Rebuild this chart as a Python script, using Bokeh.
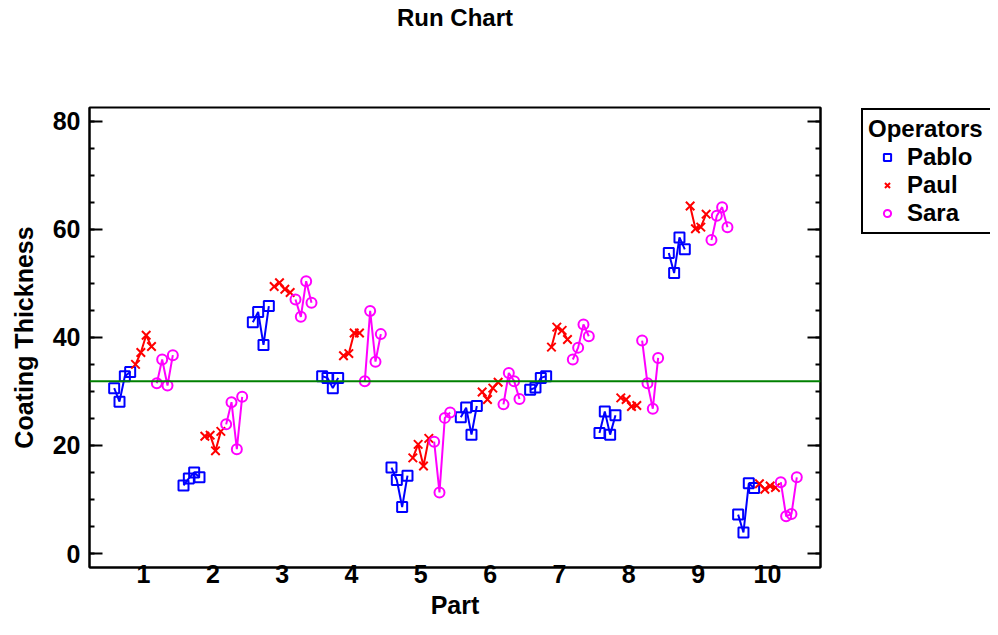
from bokeh.plotting import figure
from bokeh.layouts import row
from bokeh.models import (Range1d, LinearAxis, FixedTicker, SingleIntervalTicker,
                          Span, Legend, LegendItem)
from bokeh.embed import file_html
from bokeh.resources import INLINE

# ---------------- data ----------------
parts = [1, 2, 3, 4, 5, 6, 7, 8, 9, 10]
part_labels = ["1", "2", "3", "4", "5", "6", "7", "8", "9", "10"]
operators = ["Pablo", "Paul", "Sara"]
n_rep = 4

pablo = [30.6, 28.1, 32.8, 33.6,  12.6, 13.9, 15.0, 14.1,  42.8, 44.7, 38.6, 45.8,
         32.8, 32.5, 30.6, 32.5,  15.9, 13.6, 8.6, 14.4,   25.2, 27.0, 22.0, 27.3,
         30.3, 30.7, 32.5, 32.8,  22.3, 26.3, 22.0, 25.6,  55.6, 51.9, 58.5, 56.3,
         7.2, 3.9, 13.0, 12.1]
paul = [35.0, 37.2, 40.4, 38.3,  21.7, 21.9, 19.0, 22.6,  49.4, 50.1, 48.9, 48.3,
        36.6, 37.0, 40.8, 40.8,  17.7, 20.2, 16.2, 21.3,  29.9, 28.5, 30.6, 31.7,
        38.2, 41.9, 41.3, 39.6,  28.8, 28.5, 27.2, 27.4,  64.3, 60.1, 60.4, 62.8,
        12.9, 11.9, 12.5, 12.2]
sara = [31.5, 35.9, 31.1, 36.7,  23.9, 28.0, 19.3, 29.0,  47.0, 43.8, 50.4, 46.4,
        31.9, 44.9, 35.5, 40.6,  20.7, 11.3, 25.1, 26.1,  27.6, 33.4, 31.9, 28.6,
        35.9, 38.1, 42.4, 40.2,  39.4, 31.5, 26.8, 36.2,  58.0, 62.5, 64.1, 60.4,
        13.2, 6.9, 7.3, 14.1]

series = [pablo, paul, sara]
colors = ["#0000FF", "#FF0000", "#FF00FF"]
markers = ["square", "x", "circle"]
marker_sizes = [10, 12, 10]

FONT = "Liberation Sans"
FS = "25px"

p = figure(frame_width=731, frame_height=460,
           min_border_left=89, min_border_right=40, min_border_top=107, min_border_bottom=60,
           x_range=Range1d(0.221, 10.765), y_range=Range1d(-2.59, 82.54),
           x_axis_location=None, y_axis_location=None,
           output_backend="svg", toolbar_location=None)
p.xgrid.visible = False
p.ygrid.visible = False
p.outline_line_color = "black"
p.outline_line_width = 2
p.background_fill_color = "white"
p.border_fill_color = "white"

# title, drawn as the label of an empty top axis
top_axis = LinearAxis(ticker=FixedTicker(ticks=[]), axis_label="Run Chart")
top_axis.axis_line_color = None
top_axis.major_tick_line_color = None
top_axis.minor_tick_line_color = None
top_axis.axis_label_text_font = FONT
top_axis.axis_label_text_font_style = "bold"
top_axis.axis_label_text_font_size = "24px"
top_axis.axis_label_text_color = "black"
top_axis.axis_label_standoff = 77
p.add_layout(top_axis, "above")

# left axis and mirrored right ticks
yaxis = LinearAxis(ticker=SingleIntervalTicker(interval=20, num_minor_ticks=4),
                   axis_label="Coating Thickness")
yaxis_r = LinearAxis(ticker=SingleIntervalTicker(interval=20, num_minor_ticks=4))
for ax in (yaxis, yaxis_r):
    ax.major_tick_in = 13
    ax.major_tick_out = 0
    ax.minor_tick_in = 5
    ax.minor_tick_out = 0
    ax.axis_line_width = 2
    ax.axis_line_color = "black"
    ax.major_tick_line_width = 2
    ax.minor_tick_line_width = 2
    ax.major_label_text_font = FONT
    ax.major_label_text_font_style = "bold"
    ax.major_label_text_font_size = FS
    ax.major_label_text_color = "black"
yaxis.major_label_standoff = 9
yaxis.axis_label_text_font = FONT
yaxis.axis_label_text_font_style = "bold"
yaxis.axis_label_text_font_size = FS
yaxis.axis_label_text_color = "black"
yaxis.axis_label_standoff = 12
yaxis_r.major_label_text_font_size = "0px"
yaxis_r.major_label_standoff = 0
p.add_layout(yaxis, "left")
p.add_layout(yaxis_r, "right")

# bottom axis
xaxis = LinearAxis(ticker=FixedTicker(ticks=parts, minor_ticks=[]), axis_label="Part")
xaxis.major_label_overrides = {pp: lab for pp, lab in zip(parts, part_labels)}
xaxis.major_tick_in = 0
xaxis.major_tick_out = 0
xaxis.minor_tick_in = 0
xaxis.minor_tick_out = 0
xaxis.axis_line_width = 2
xaxis.axis_line_color = "black"
xaxis.major_label_standoff = -3
xaxis.major_label_text_font = FONT
xaxis.major_label_text_font_style = "bold"
xaxis.major_label_text_font_size = FS
xaxis.major_label_text_color = "black"
xaxis.axis_label_text_font = FONT
xaxis.axis_label_text_font_style = "bold"
xaxis.axis_label_text_font_size = FS
xaxis.axis_label_text_color = "black"
xaxis.axis_label_standoff = 5
p.add_layout(xaxis, "below")

# grand mean line
all_vals = pablo + paul + sara
mean_val = sum(all_vals) / len(all_vals)
p.add_layout(Span(location=mean_val, dimension="width", line_color="#008000", line_width=2))

# legend panel (separate small figure to the right)
lf = figure(frame_width=130, frame_height=150,
            min_border_left=0, min_border_right=0, min_border_top=83, min_border_bottom=394,
            x_range=Range1d(0, 1), y_range=Range1d(0, 1),
            x_axis_location=None, y_axis_location=None,
            output_backend="svg", toolbar_location=None)
lf.xgrid.visible = False
lf.ygrid.visible = False
lf.outline_line_color = None
lf.background_fill_color = "white"
lf.border_fill_color = "white"

# data: runs of each operator within each part
legend_items = []
for o, (vals, col, mk, ms, name) in enumerate(zip(series, colors, markers, marker_sizes, operators)):
    xs_groups, ys_groups, xs_flat, ys_flat = [], [], [], []
    for i, part in enumerate(parts):
        gx = [part + (o * n_rep + r - 5.5) / 13.0 for r in range(n_rep)]
        gy = vals[i * n_rep:(i + 1) * n_rep]
        xs_groups.append(gx)
        ys_groups.append(gy)
        xs_flat += gx
        ys_flat += gy
    p.multi_line(xs=xs_groups, ys=ys_groups, line_color=col, line_width=2)
    p.scatter(x=xs_flat, y=ys_flat, marker=mk, size=ms, line_color=col, line_width=2,
              fill_color=None)
    # legend-only renderer: its single point lies outside the legend panel's range
    lr = lf.scatter(x=[parts[-1]], y=[vals[0]], marker=mk, size=6, line_color=col,
                    line_width=2, fill_color=None)
    legend_items.append(LegendItem(label=name, renderers=[lr], index=0))

legend = Legend(items=legend_items, title="Operators", location="top_left")
legend.title_text_font = FONT
legend.title_text_font_style = "bold"
legend.title_text_font_size = "24px"
legend.title_text_color = "black"
legend.label_text_font = FONT
legend.label_text_font_style = "bold"
legend.label_text_font_size = "24px"
legend.label_text_color = "black"
legend.border_line_color = "black"
legend.border_line_alpha = 1.0
legend.border_line_width = 2
legend.background_fill_color = "white"
legend.background_fill_alpha = 1
legend.padding = 5
legend.spacing = 0
legend.margin = 1
legend.label_height = 28
legend.label_width = 100
legend.glyph_height = 18
legend.glyph_width = 38
legend.label_standoff = 1
legend.title_standoff = -4
lf.add_layout(legend)

layout = row(p, lf)
open("out.html", "w").write(file_html(layout, INLINE))
